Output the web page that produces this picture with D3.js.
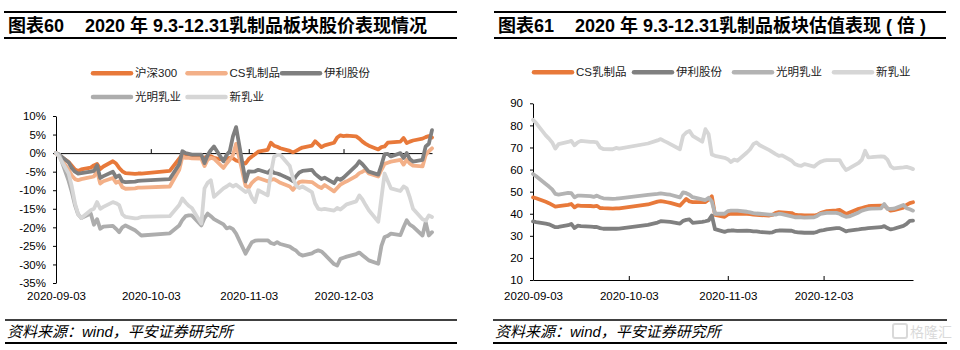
<!DOCTYPE html>
<html>
<head>
<meta charset="utf-8">
<script src="https://cdn.jsdelivr.net/npm/d3@7"></script>
<style>
  body { margin: 0; background: #fff; }
  svg { display: block; font-family: "Liberation Sans", Arial, "Noto Sans CJK SC", sans-serif; }
</style>
</head>
<body>
<svg id="svg_main" width="960" height="350"></svg>
<script>

// trading days, 2020-09-03 .. 2020-12-31
const dates = [
  '2020-09-03','2020-09-04','2020-09-07','2020-09-08','2020-09-09','2020-09-10','2020-09-11','2020-09-14','2020-09-15','2020-09-16',
  '2020-09-17','2020-09-18','2020-09-21','2020-09-22','2020-09-23','2020-09-24','2020-09-25','2020-09-28','2020-09-29','2020-09-30',
  '2020-10-09','2020-10-12','2020-10-13','2020-10-14','2020-10-15','2020-10-16','2020-10-19','2020-10-20','2020-10-21','2020-10-22',
  '2020-10-23','2020-10-26','2020-10-27','2020-10-28','2020-10-29','2020-10-30',
  '2020-11-02','2020-11-03','2020-11-04','2020-11-05','2020-11-06','2020-11-09','2020-11-10','2020-11-11','2020-11-12','2020-11-13',
  '2020-11-16','2020-11-17','2020-11-18','2020-11-19','2020-11-20','2020-11-23','2020-11-24','2020-11-25','2020-11-26','2020-11-27',
  '2020-11-30',
  '2020-12-01','2020-12-02','2020-12-03','2020-12-04','2020-12-07','2020-12-08','2020-12-09','2020-12-10','2020-12-11','2020-12-14',
  '2020-12-15','2020-12-16','2020-12-17','2020-12-18','2020-12-21','2020-12-22','2020-12-23','2020-12-24','2020-12-25','2020-12-28',
  '2020-12-29','2020-12-30','2020-12-31'
];

// chart 60: price change since 9.3 (%)
const hs300Chg = [
  0, -0.6, -2.4, -3.4, -4.4, -4.8, -4.4, -3.9, -3.3, -2.9, -4.3, -3.6, -2.2, -2.8, -4.0, -4.9, -5.4, -5.6, -5.5, -5.5,
  -4.8, -1.5, -0.4, -0.7, -1.0, -1.1, -1.3, -1.2, -0.9, -0.8, -1.3, -1.8, -1.5, -1.3, -1.4, -2.0,
  -2.8, -1.6, -0.9, -0.3, 0.4, 0.9, 2.8, 2.0, 1.7, 1.3, 0.6, 0.2, 0.6, 1.1, 1.5, 2.0, 3.2, 2.4, 1.6, 2.1, 2.8,
  4.2, 4.8, 4.6, 4.7, 4.5, 3.9, 3.1, 2.5, 2.0, 1.0, 1.6, 1.8, 2.8, 2.9, 3.1, 4.1, 2.7, 3.1, 3.4, 3.9, 4.3, 4.6, 4.2
];
const csDairyChg = [
  0, -0.8, -4.5, -6.0, -7.0, -7.3, -7.0, -6.5, -6.3, -4.9, -8.2, -7.6, -6.7, -8.0, -7.6, -9.2, -9.6, -9.5, -9.3, -9.3,
  -9.0, -4.5, -0.9, -1.3, -1.3, -1.4, -1.5, -3.5, -1.7, -1.3, -1.5, -4.0, -2.8, -1.8, -0.5, 2.5,
  -8.8, -9.3, -8.0, -7.2, -6.7, -7.6, -7.2, -7.0, -7.5, -8.0, -9.0, -9.9, -8.8, -7.8, -7.6, -7.8, -8.4, -9.0, -9.4, -8.6, -10.3,
  -9.4, -8.5, -8.0, -7.6, -6.2, -5.4, -5.0, -4.5, -5.5, -6.3, -4.5, -2.9, -2.6, -2.3, -1.8, -3.1, -1.8, -2.8, -3.4, -3.6, -0.5, 0.5, 1.3
];
const yiliChg = [
  0, -0.4, -2.5, -4.0, -5.0, -5.5, -5.4, -5.0, -4.8, -3.3, -6.7, -6.2, -5.0, -6.5, -6.0, -7.6, -7.8, -7.7, -7.5, -7.4,
  -7.0, -3.0, 0.5, 0.0, -0.2, -0.4, -0.4, -2.7, -0.5, 0.8, 1.8, -2.2, -0.5, 0.5, 4.5, 7.0,
  -7.6, -4.9, -5.0, -4.9, -4.5, -5.3, -4.5, -5.3, -5.5, -5.8, -7.0, -7.6, -6.2, -5.2, -4.8, -4.5, -5.6, -6.3, -7.0, -6.6, -8.1,
  -6.8, -7.2, -6.6, -5.8, -3.4, -2.2, -3.0, -4.0, -5.0, -5.8, -3.2, -0.3, -0.2, -0.9, 0.0, -1.3, 0.0, -1.6, -2.3, -1.8, 1.8, 2.5, 6.2
];
const brightChg = [
  0, -0.3, -7.5, -10.5, -14.0, -16.5, -17.5, -16.3, -19.3, -17.8, -20.4, -19.8, -19.6, -20.4, -21.3, -20.0, -19.5, -20.8, -21.5, -22.2,
  -21.6, -19.5, -18.0, -17.0, -16.8, -16.8, -19.5, -17.5, -16.3, -17.0, -17.8, -19.2, -20.3, -20.0, -20.5, -21.7,
  -27.1, -25.5, -24.0, -23.6, -23.5, -23.5, -24.2, -24.5, -24.0, -24.5, -25.2, -25.8, -26.3, -27.2, -27.6, -27.0, -26.5, -26.2, -26.5, -27.3, -29.9,
  -30.3, -28.5, -28.2, -27.9, -27.2, -26.8, -27.5, -28.2, -28.9, -29.8, -25.0, -22.6, -22.3, -21.7, -22.1, -20.0, -18.1, -19.3, -19.8, -22.2, -18.6, -22.2, -21.3
];
const newHopeChg = [
  0, -1.0, -5.5, -9.0, -13.5, -16.5, -17.5, -15.4, -15.0, -13.2, -15.0, -14.5, -13.2, -13.5, -14.0, -16.5, -17.2, -17.6, -17.5, -17.2,
  -17.0, -14.0, -12.2, -13.3, -14.2, -14.8, -19.0, -9.5, -8.0, -7.3, -11.8, -9.5, -9.0, -8.4, -9.0, -8.5,
  -10.5, -10.0, -12.0, -13.2, -10.0, -11.4, -5.5, -1.0, -0.5, -0.5, -3.5, -6.8, -8.8, -9.4, -9.0, -10.5, -13.5, -15.0, -15.2, -15.0, -15.5,
  -14.8, -15.2, -14.5, -13.8, -13.0, -11.4, -12.5, -14.0, -15.4, -18.5, -12.0, -5.5, -7.5, -9.5, -10.2, -9.0, -9.5, -12.0, -15.0, -17.8, -18.2, -16.8, -17.2
];

// chart 61: valuation (times)
const csDairyPE = [
  47.4, 47.0, 45.4, 44.8, 44.0, 43.2, 43.4, 44.0, 44.4, 42.9, 43.8, 43.6, 43.5, 43.3, 43.6, 42.6, 42.5, 42.3, 42.4, 42.4,
  44.2, 45.5, 45.7, 45.5, 45.2, 44.9, 43.7, 45.2, 46.7, 45.6, 45.3, 45.3, 45.3, 46.4, 47.9, 39.5,
  38.6, 39.7, 40.0, 40.0, 39.9, 39.9, 39.8, 39.6, 39.5, 39.4, 39.2, 39.5, 40.4, 40.7, 40.6, 40.3, 39.6, 39.4, 39.4, 39.3, 39.2,
  39.5, 40.3, 40.8, 41.2, 41.5, 41.7, 40.8, 39.9, 40.5, 42.2, 42.6, 43.0, 43.4, 43.6, 43.7, 43.7, 42.5, 41.4, 41.6, 42.8, 44.0, 44.8, 45.2
];
const yiliPE = [
  36.5, 36.2, 35.5, 35.2, 34.6, 33.9, 34.0, 34.8, 35.4, 33.5, 34.6, 34.4, 34.2, 34.0, 34.0, 33.5, 33.2, 33.2, 33.2, 33.3,
  35.0, 36.0, 36.6, 36.5, 36.4, 36.3, 35.5, 36.8, 37.2, 37.4, 35.9, 36.3, 36.6, 37.0, 39.2, 33.0,
  31.8, 32.3, 32.4, 32.4, 32.2, 32.3, 32.2, 32.0, 32.0, 31.8, 31.4, 31.6, 32.2, 32.4, 32.4, 32.3, 31.8, 31.6, 31.5, 31.4, 31.4,
  31.8, 32.4, 32.6, 32.9, 33.5, 33.5, 32.8, 32.0, 32.4, 32.9, 33.1, 33.3, 33.5, 33.6, 33.9, 34.4, 33.5, 32.9, 33.2, 34.5, 35.4, 36.8, 36.9
];
const brightPE = [
  58.0, 57.0, 53.5, 52.3, 51.0, 49.0, 48.7, 49.4, 49.3, 47.4, 48.2, 48.2, 48.0, 47.6, 48.2, 47.5, 47.0, 46.7, 46.8, 47.0,
  48.5, 49.0, 49.2, 49.0, 48.8, 48.6, 47.4, 49.7, 49.3, 48.6, 47.5, 46.5, 46.2, 47.2, 45.5, 40.0,
  40.0, 41.2, 41.4, 41.4, 41.4, 40.9, 40.6, 40.3, 40.1, 40.0, 39.6, 39.6, 39.6, 40.0, 39.8, 38.8, 38.4, 38.4, 38.4, 38.2, 38.4,
  39.0, 39.9, 40.2, 40.4, 40.4, 40.0, 39.2, 38.6, 38.8, 40.6, 41.4, 41.8, 42.2, 42.3, 42.4, 44.4, 42.2, 42.2, 42.3, 44.0, 42.5, 42.0, 41.4
];
const newHopePE = [
  82.5, 81.0, 75.5, 74.0, 72.3, 69.5, 71.5, 72.5, 73.0, 71.0, 72.3, 73.0, 72.5, 72.5, 72.3, 70.0, 69.3, 69.2, 69.8, 69.5,
  71.8, 73.2, 73.8, 73.0, 72.3, 71.5, 69.2, 75.3, 76.8, 77.5, 75.3, 72.6, 78.3, 76.0, 66.8, 66.2,
  65.3, 64.7, 63.4, 64.5, 64.0, 67.7, 69.2, 71.5, 72.3, 71.0, 68.8, 67.9, 67.0, 66.2, 66.4, 64.0, 62.5, 61.9, 61.7, 62.5, 61.3,
  62.5, 63.5, 64.0, 64.3, 64.3, 64.3, 61.8, 59.8, 60.5, 63.0, 64.5, 68.5, 65.5, 65.6, 66.0, 65.8, 64.5, 61.5, 60.5, 61.0, 61.2, 60.8, 60.2
];

const pctTicks = [10, 5, 0, -5, -10, -15, -20, -25, -30, -35];
const peTicks = [10, 20, 30, 40, 50, 60, 70, 80, 90];
const dateTicks = ['2020-09-03', '2020-10-03', '2020-11-03', '2020-12-03'];
const dateRange = ['2020-09-03', '2020-12-31'];

const parse = d3.timeParse('%Y-%m-%d');
const fmtDate = d3.timeFormat('%Y-%m-%d');
const xDates = dates.map(parse);

const svg = d3.select('#svg_main');

// header: thick rule, tag, title, rule
function drawHeader(x0, x1, tag, title) {
  const g = svg.append('g');
  g.append('line').attr('x1', x0).attr('x2', x1).attr('y1', 12).attr('y2', 12)
    .attr('stroke', '#000').attr('stroke-width', 2.2);
  g.append('line').attr('x1', x0).attr('x2', x1).attr('y1', 38).attr('y2', 38)
    .attr('stroke', '#000').attr('stroke-width', 2);
  g.selectAll('text').data([[tag, 4], [title, 81]])
    .join('text')
    .attr('x', d => x0 + d[1])
    .attr('y', 32)
    .attr('font-size', 18)
    .attr('font-weight', 'bold')
    .attr('fill', '#000')
    .text(d => d[0]);
}

function drawFooter(x0, x1) {
  const g = svg.append('g');
  g.append('line').attr('x1', x0).attr('x2', x1).attr('y1', 320).attr('y2', 320)
    .attr('stroke', '#000').attr('stroke-width', 1.6);
  g.append('line').attr('x1', x0).attr('x2', x1).attr('y1', 343).attr('y2', 343)
    .attr('stroke', '#000').attr('stroke-width', 2.2);
  g.append('text')
    .attr('x', x0 + 2).attr('y', 337)
    .attr('font-size', 15)
    .attr('font-style', 'italic')
    .attr('fill', '#000')
    .text('资料来源：wind，平安证券研究所');
}

function drawLegend(items, x0, y0, colStep, rowStep, perRow) {
  const it = svg.append('g').selectAll('g').data(items)
    .join('g')
    .attr('transform', (d, i) => `translate(${x0 + (i % perRow) * colStep},${y0 + Math.floor(i / perRow) * rowStep})`);
  it.append('line')
    .attr('x1', 0).attr('x2', 38).attr('y1', 0).attr('y2', 0)
    .attr('stroke', d => d.color)
    .attr('stroke-width', 4.5)
    .attr('stroke-linecap', 'round');
  it.append('text')
    .attr('x', 42).attr('y', 4)
    .attr('font-size', 11.5)
    .attr('fill', '#222')
    .text(d => d.name);
}

function drawPanel(cfg) {
  const g = svg.append('g');

  const x = d3.scaleTime()
    .domain(dateRange.map(parse))
    .range([cfg.left, cfg.right]);

  const y = d3.scaleLinear()
    .domain(cfg.yDomain)
    .range([cfg.bottom, cfg.top]);

  // y axis
  g.append('g')
    .attr('transform', `translate(${cfg.left},0)`)
    .call(d3.axisLeft(y).tickValues(cfg.yTicks).tickSize(3).tickSizeOuter(0).tickPadding(7).tickFormat(cfg.yFormat))
    .attr('font-size', 11.5)
    .attr('font-family', '"Liberation Sans", Arial, sans-serif')
    .attr('color', '#000');

  // base line (zero / bottom) with inward ticks
  g.append('g')
    .attr('transform', `translate(0,${y(cfg.base)})`)
    .call(d3.axisBottom(x).tickValues(dateTicks.map(parse)).tickSize(-4).tickSizeOuter(0).tickFormat(''))
    .attr('color', '#000');

  // date labels below the plot
  g.append('g')
    .attr('transform', `translate(0,${cfg.bottom})`)
    .call(d3.axisBottom(x).tickValues(dateTicks.map(parse)).tickSize(0).tickPadding(cfg.labelPad).tickFormat(fmtDate))
    .call(a => a.select('.domain').remove())
    .attr('font-size', 11.5)
    .attr('font-family', '"Liberation Sans", Arial, sans-serif')
    .attr('color', '#000');

  const line = d3.line()
    .x((d, i) => x(xDates[i]))
    .y(d => y(d));

  g.selectAll('.series').data(cfg.series)
    .join('path')
    .attr('class', 'series')
    .attr('d', d => line(d.values))
    .attr('fill', 'none')
    .attr('stroke', d => d.color)
    .attr('stroke-width', 3.8)
    .attr('stroke-linejoin', 'round')
    .attr('stroke-linecap', 'round');
}

// ---- chart 60 ----
const priceSeries = [
  { name: '沪深300', values: hs300Chg, color: '#E8793A' },
  { name: 'CS乳制品', values: csDairyChg, color: '#F3B088' },
  { name: '伊利股份', values: yiliChg, color: '#7F7F7F' },
  { name: '光明乳业', values: brightChg, color: '#ADADAD' },
  { name: '新乳业', values: newHopeChg, color: '#D6D6D6' }
];

drawHeader(4, 457, '图表60', '2020 年 9.3-12.31乳制品板块股价表现情况');
drawLegend(priceSeries, 93, 73.3, 94.5, 23.7, 3);
drawPanel({
  left: 56, right: 432, top: 116, bottom: 283,
  yDomain: [-35, 10], yTicks: pctTicks, yFormat: d => d + '%',
  base: 0, labelPad: 9,
  series: priceSeries
});
drawFooter(5, 457);

// ---- chart 61 ----
const peSeries = [
  { name: 'CS乳制品', values: csDairyPE, color: '#E8793A' },
  { name: '伊利股份', values: yiliPE, color: '#808080' },
  { name: '光明乳业', values: brightPE, color: '#B3B3B3' },
  { name: '新乳业', values: newHopePE, color: '#D6D6D6' }
];

drawHeader(494, 946, '图表61', '2020 年 9.3-12.31乳制品板块估值表现 ( 倍 )');
drawLegend(peSeries, 534, 72.3, 100, 0, 4);
drawPanel({
  left: 533, right: 913, top: 103.3, bottom: 280,
  yDomain: [10, 90], yTicks: peTicks, yFormat: d => d,
  base: 10, labelPad: 12,
  series: peSeries
});
drawFooter(493, 947);

// watermark
const wm = svg.append('g').attr('opacity', 0.55);
wm.append('rect').attr('x', 893).attr('y', 324).attr('width', 14).attr('height', 14)
  .attr('rx', 2).attr('fill', 'none').attr('stroke', '#bbb').attr('stroke-width', 2);
wm.append('text').attr('x', 910).attr('y', 337).attr('font-size', 14)
  .attr('fill', '#bbb').text('格隆汇');

</script>
</body>
</html>
